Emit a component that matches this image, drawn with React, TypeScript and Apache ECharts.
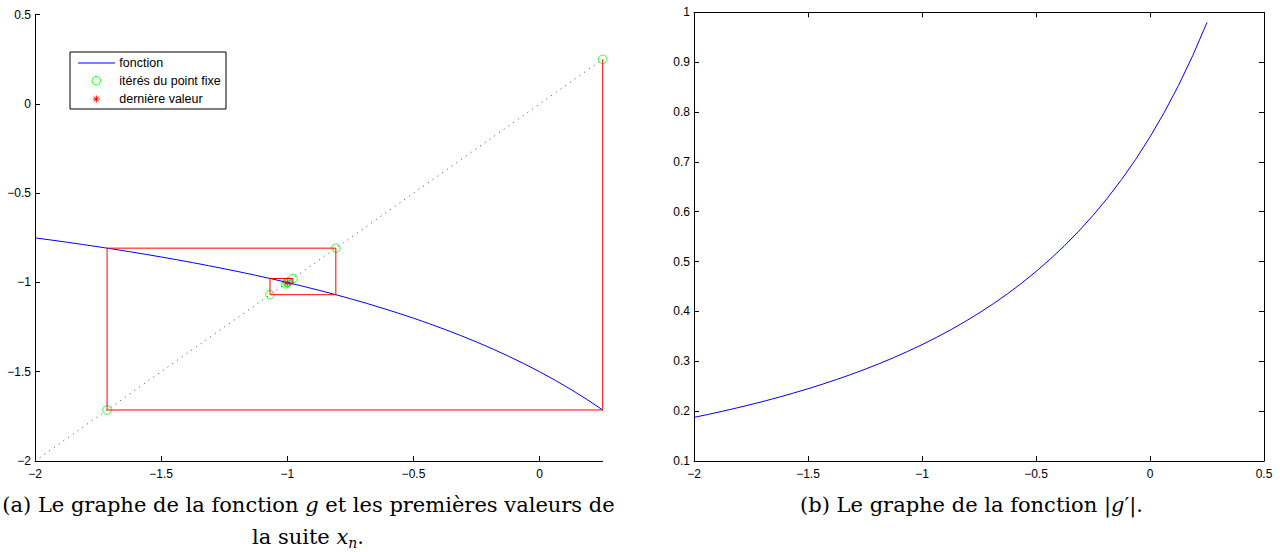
import React, { useEffect, useRef } from "react";
import * as echarts from "echarts";

// ---- data ----
const X_VALUES = [-2, -1.9375, -1.875, -1.8125, -1.75, -1.6875, -1.625, -1.5625, -1.5, -1.4375, -1.375, -1.3125, -1.25, -1.1875, -1.125, -1.0625, -1, -0.9375, -0.875, -0.8125, -0.75, -0.6875, -0.625, -0.5625, -0.5, -0.4375, -0.375, -0.3125, -0.25, -0.1875, -0.125, -0.0625, 0, 0.0625, 0.125, 0.1875, 0.25];
const G_VALUES = [-0.75, -0.7619, -0.7742, -0.7869, -0.8, -0.8136, -0.8276, -0.8421, -0.8571, -0.8727, -0.8889, -0.9057, -0.9231, -0.9412, -0.96, -0.9796, -1, -1.0213, -1.0435, -1.0667, -1.0909, -1.1163, -1.1429, -1.1707, -1.2, -1.2308, -1.2632, -1.2973, -1.3333, -1.3714, -1.4118, -1.4545, -1.5, -1.5484, -1.6, -1.6552, -1.7143];
const DG_VALUES = [0.1875, 0.1935, 0.1998, 0.2064, 0.2133, 0.2206, 0.2283, 0.2364, 0.2449, 0.2539, 0.2634, 0.2734, 0.284, 0.2953, 0.3072, 0.3199, 0.3333, 0.3477, 0.3629, 0.3793, 0.3967, 0.4154, 0.4354, 0.4568, 0.48, 0.505, 0.5319, 0.561, 0.5926, 0.6269, 0.6644, 0.7052, 0.75, 0.7992, 0.8533, 0.9132, 0.9796];
const ITERATES = [0.25, -1.7143, -0.8077, -1.0685, -0.9777, -1.0075, -0.9975, -1.0008, -0.9997];
const LAST_VALUE = -1.0001;
const DIAGONAL = [-2, 0.25];

const X_TICKS_A = [-2, -1.5, -1, -0.5, 0];
const Y_TICKS_A = [-2, -1.5, -1, -0.5, 0, 0.5];
const X_TICKS_B = [-2, -1.5, -1, -0.5, 0, 0.5];
const Y_TICKS_B = [0.1, 0.2, 0.3, 0.4, 0.5, 0.6, 0.7, 0.8, 0.9, 1];

const LEGEND_LABELS = ["fonction", "itérés du point fixe", "dernière valeur"];
const CAPTION_A1 = "(a) Le graphe de la fonction {i|g} et les premières valeurs de";
const CAPTION_A2 = "{n|la suite }{i|x}{sub|n}{n|.}";
const CAPTION_B = "(b) Le graphe de la fonction |{i|g}′|.";

const SANS = "'Liberation Sans', Arial, Helvetica, sans-serif";
const SERIF = "'DejaVu Serif', serif";
const ASTERISK = "path://M5 0 L5 10 M0 5 L10 5 M1.6 1.6 L8.4 8.4 M1.6 8.4 L8.4 1.6";

const fmt = (v: number) => {
  const r = Number(v.toFixed(2));
  return r < 0 ? "\u2212" + String(Math.abs(r)) : String(r);
};

function axisBase(ticks: number[] | null, showLabel: boolean, margin: number) {
  return {
    type: "value" as const,
    axisLine: { show: true, onZero: false, lineStyle: { color: "#000", width: 1 } },
    axisTick: ticks
      ? { show: true, inside: true, length: 5, lineStyle: { color: "#000" }, customValues: ticks }
      : { show: true, inside: true, length: 5, lineStyle: { color: "#000" } },
    axisLabel: ticks
      ? { show: showLabel, margin, color: "#000", fontFamily: SANS, fontSize: 12, formatter: fmt, customValues: ticks }
      : { show: showLabel, margin, color: "#000", fontFamily: SANS, fontSize: 12, formatter: fmt },
    splitLine: { show: false },
  };
}

export default function App() {
  const ref = useRef<HTMLDivElement>(null);

  useEffect(() => {
    if (!ref.current) return;
    const chart = echarts.init(ref.current, null, { renderer: "svg" });

    const fonction = X_VALUES.map((x, i) => [x, G_VALUES[i]]);
    const derivee = X_VALUES.map((x, i) => [x, DG_VALUES[i]]);
    const diag = DIAGONAL.map((v) => [v, v]);
    const cobweb: number[][] = [[ITERATES[0], ITERATES[0]]];
    for (let i = 0; i < ITERATES.length - 1; i++) {
      cobweb.push([ITERATES[i], ITERATES[i + 1]]);
      cobweb.push([ITERATES[i + 1], ITERATES[i + 1]]);
    }
    const circles = ITERATES.map((v) => [v, v]);

    const lx = 70, ly = 52, lw = 156, lh = 57;
    const legendGroup = {
      type: "group",
      children: [
        { type: "rect", shape: { x: lx, y: ly, width: lw, height: lh }, style: { fill: "#fff", stroke: "#000", lineWidth: 1 } },
        { type: "line", shape: { x1: 78, y1: 63, x2: 115, y2: 63 }, style: { stroke: "#0000ff", lineWidth: 1 } },
        { type: "circle", shape: { cx: 96.3, cy: 80.7, r: 4.2 }, style: { fill: "none", stroke: "#00ff00", lineWidth: 1 } },
        { type: "line", shape: { x1: 96.3, y1: 95.5, x2: 96.3, y2: 102.5 }, style: { stroke: "#ff0000", lineWidth: 1 } },
        { type: "line", shape: { x1: 92.8, y1: 99, x2: 99.8, y2: 99 }, style: { stroke: "#ff0000", lineWidth: 1 } },
        { type: "line", shape: { x1: 93.8, y1: 96.5, x2: 98.8, y2: 101.5 }, style: { stroke: "#ff0000", lineWidth: 1 } },
        { type: "line", shape: { x1: 93.8, y1: 101.5, x2: 98.8, y2: 96.5 }, style: { stroke: "#ff0000", lineWidth: 1 } },
        ...LEGEND_LABELS.map((t, i) => ({
          type: "text",
          x: 119.3,
          y: [63, 81, 98.5][i],
          style: { text: t, fontFamily: SANS, fontSize: 12.5, fill: "#000", verticalAlign: "middle", align: "left" },
        })),
      ],
    };

    const captionStyle = (text: string) => ({
      text,
      fontFamily: SERIF,
      fontSize: 21,
      fill: "#000",
      align: "center",
      verticalAlign: "middle",
      rich: {
        i: { fontFamily: SERIF, fontSize: 21, fontStyle: "italic", lineHeight: 26 },
        n: { fontFamily: SERIF, fontSize: 21, lineHeight: 26 },
        sub: { fontFamily: SERIF, fontSize: 14, fontStyle: "italic", lineHeight: 14, verticalAlign: "bottom" },
      },
    });

    chart.setOption({
      animation: false,
      backgroundColor: "#fff",
      grid: [
        { left: 35, top: 14.7, width: 567.7, height: 446.3, containLabel: false },
        { left: 694, top: 12.3, width: 570, height: 448.7, containLabel: false },
      ],
      xAxis: [
        { ...axisBase(X_TICKS_A, true, 7), gridIndex: 0, min: -2, max: 0.25, interval: 0.5, position: "bottom" },
        { ...axisBase(X_TICKS_B, true, 7), gridIndex: 1, min: -2, max: 0.5, interval: 0.5, position: "bottom" },
        { ...axisBase(X_TICKS_B, false, 7), gridIndex: 1, min: -2, max: 0.5, interval: 0.5, position: "top" },
      ],
      yAxis: [
        { ...axisBase(Y_TICKS_A, true, 4), gridIndex: 0, min: -2, max: 0.5, interval: 0.5, position: "left" },
        { ...axisBase(Y_TICKS_B, true, 4), gridIndex: 1, min: 0.1, max: 1, interval: 0.1, position: "left" },
        { ...axisBase(Y_TICKS_B, false, 4), gridIndex: 1, min: 0.1, max: 1, interval: 0.1, position: "right" },
      ],
      series: [
        {
          name: "fonction", type: "line", xAxisIndex: 0, yAxisIndex: 0, data: fonction,
          showSymbol: false, lineStyle: { color: "#0000ff", width: 1 }, silent: true,
        },
        {
          name: "diag", type: "line", xAxisIndex: 0, yAxisIndex: 0, data: diag,
          showSymbol: false, lineStyle: { color: "#444", width: 1, type: [1, 4.8] }, silent: true,
        },
        {
          name: "cobweb", type: "line", xAxisIndex: 0, yAxisIndex: 0, data: cobweb,
          showSymbol: false, lineStyle: { color: "#ff0000", width: 1 }, silent: true,
        },
        {
          name: "itérés", type: "scatter", xAxisIndex: 0, yAxisIndex: 0, data: circles,
          symbol: "circle", symbolSize: 8.5,
          itemStyle: { color: "none", borderColor: "#00ff00", borderWidth: 1 }, silent: true,
        },
        {
          name: "dernière", type: "scatter", xAxisIndex: 0, yAxisIndex: 0, data: [[LAST_VALUE, LAST_VALUE]],
          symbol: ASTERISK, symbolSize: 7,
          itemStyle: { color: "none", borderColor: "#ff0000", borderWidth: 1 }, silent: true,
        },
        {
          name: "derivee", type: "line", xAxisIndex: 1, yAxisIndex: 1, data: derivee,
          showSymbol: false, lineStyle: { color: "#0000ff", width: 1 }, silent: true,
        },
      ],
      graphic: [
        legendGroup,
        { type: "text", x: 308.5, y: 505, style: captionStyle(CAPTION_A1) },
        { type: "text", x: 308, y: 537, style: captionStyle(CAPTION_A2) },
        { type: "text", x: 971.5, y: 505, style: captionStyle(CAPTION_B) },
      ],
    });

    return () => chart.dispose();
  }, []);

  return (
    <div
      ref={ref}
      style={{ position: "fixed", left: 0, top: 0, width: 1283, height: 552, background: "#fff" }}
    />
  );
}
